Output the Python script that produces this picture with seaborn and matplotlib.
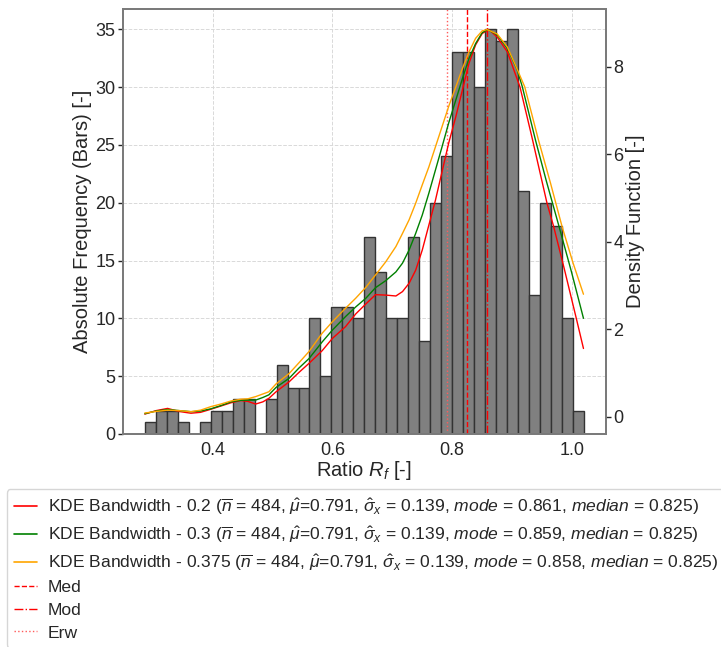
import numpy as np
import pandas as pd
import matplotlib
matplotlib.use("Agg")
import matplotlib.pyplot as plt
import seaborn as sns
from matplotlib.lines import Line2D

# ---------------- data ----------------
bin_low, bin_high, n_bins = 0.2872, 1.0194, 40
bar_counts = [1, 2, 2, 1, 0, 1, 2, 2, 3, 3,
              0, 3, 6, 4, 4, 10, 5, 11, 11, 10,
              17, 14, 10, 10, 17, 8, 20, 24, 33, 33,
              30, 35, 34, 35, 21, 12, 20, 18, 10, 2]

kde02_x = [0.287, 0.306, 0.325, 0.344, 0.364, 0.380, 0.397, 0.414, 0.431, 0.447,
           0.459, 0.472, 0.484, 0.494, 0.506, 0.528, 0.544, 0.561, 0.583, 0.600,
           0.622, 0.639, 0.656, 0.672, 0.689, 0.706, 0.717, 0.728, 0.739, 0.750,
           0.761, 0.772, 0.783, 0.794, 0.806, 0.817, 0.828, 0.839, 0.850, 0.861,
           0.875, 0.892, 0.913, 0.933, 0.958, 0.969, 0.987, 1.007, 1.019]
kde02_y = [0.06, 0.14, 0.19, 0.12, 0.08, 0.10, 0.17, 0.245, 0.32, 0.37,
           0.35, 0.29, 0.34, 0.42, 0.57, 0.80, 1.01, 1.22, 1.51, 1.79,
           2.06, 2.35, 2.58, 2.79, 2.78, 2.76, 2.86, 3.05, 3.35, 3.81,
           4.38, 4.95, 5.60, 6.25, 6.86, 7.47, 8.08, 8.50, 8.76, 8.85,
           8.68, 8.34, 7.54, 6.39, 4.89, 4.36, 3.38, 2.25, 1.56]

kde03_x = [0.287, 0.306, 0.325, 0.344, 0.364, 0.380, 0.397, 0.414, 0.431, 0.447,
           0.459, 0.472, 0.484, 0.494, 0.506, 0.528, 0.544, 0.561, 0.583, 0.600,
           0.622, 0.639, 0.656, 0.672, 0.689, 0.706, 0.717, 0.728, 0.739, 0.750,
           0.761, 0.772, 0.783, 0.794, 0.806, 0.817, 0.828, 0.839, 0.850, 0.859,
           0.875, 0.892, 0.908, 0.917, 0.939, 0.957, 0.978, 0.999, 1.019]
kde03_y = [0.07, 0.13, 0.165, 0.14, 0.115, 0.13, 0.18, 0.255, 0.34, 0.375,
           0.38, 0.38, 0.44, 0.50, 0.67, 0.88, 1.11, 1.33, 1.71, 1.98,
           2.29, 2.51, 2.71, 2.95, 3.11, 3.31, 3.51, 3.81, 4.19, 4.61,
           5.11, 5.64, 6.17, 6.71, 7.24, 7.73, 8.19, 8.53, 8.78, 8.85,
           8.73, 8.42, 7.95, 7.54, 6.32, 5.39, 4.36, 3.31, 2.25]

kde0375_x = [0.287, 0.306, 0.325, 0.344, 0.364, 0.380, 0.397, 0.414, 0.431, 0.447,
             0.459, 0.472, 0.484, 0.494, 0.506, 0.528, 0.544, 0.561, 0.583, 0.600,
             0.622, 0.639, 0.656, 0.672, 0.689, 0.706, 0.717, 0.728, 0.739, 0.750,
             0.761, 0.772, 0.783, 0.794, 0.806, 0.817, 0.828, 0.839, 0.850, 0.858,
             0.875, 0.892, 0.906, 0.921, 0.944, 0.964, 0.983, 1.001, 1.019]
kde0375_y = [0.085, 0.12, 0.15, 0.14, 0.115, 0.15, 0.23, 0.29, 0.36, 0.40,
             0.41, 0.46, 0.52, 0.57, 0.75, 0.99, 1.23, 1.49, 1.91, 2.17,
             2.48, 2.71, 2.96, 3.24, 3.54, 3.89, 4.19, 4.50, 4.88, 5.30,
             5.71, 6.17, 6.63, 7.09, 7.54, 7.96, 8.34, 8.65, 8.82, 8.85,
             8.75, 8.45, 8.02, 7.54, 6.32, 5.34, 4.36, 3.54, 2.80]

kde_labels = [
    r'KDE Bandwidth - 0.2 ($\overline{n}$ = 484, $\hat{\mu}$=0.791, $\hat{\sigma}_x$ = 0.139, $mode$ = 0.861, $median$ = 0.825)',
    r'KDE Bandwidth - 0.3 ($\overline{n}$ = 484, $\hat{\mu}$=0.791, $\hat{\sigma}_x$ = 0.139, $mode$ = 0.859, $median$ = 0.825)',
    r'KDE Bandwidth - 0.375 ($\overline{n}$ = 484, $\hat{\mu}$=0.791, $\hat{\sigma}_x$ = 0.139, $mode$ = 0.858, $median$ = 0.825)',
]
kde_colors = ['red', 'green', 'orange']
median_val, mode_val, mean_val = 0.825, 0.858, 0.791
x_ticks = [0.4, 0.6, 0.8, 1.0]
y1_ticks = [0, 5, 10, 15, 20, 25, 30, 35]
y2_ticks = [0, 2, 4, 6, 8]

# ---------------- style ----------------
sns.set_style("whitegrid")
plt.rcParams['font.family'] = ['Liberation Sans', 'DejaVu Sans']
plt.rcParams['mathtext.fontset'] = 'custom'
plt.rcParams['mathtext.rm'] = 'Liberation Sans'
plt.rcParams['mathtext.it'] = 'Liberation Sans:italic'
plt.rcParams['mathtext.bf'] = 'Liberation Sans:bold'
text_col = '#262626'

fig = plt.figure(figsize=(7.21, 6.47), dpi=100)
ax1 = fig.add_axes([123/721, 1-434/647, (605.7-123)/721, (434-9)/647])
ax2 = ax1.twinx()

edges = np.linspace(bin_low, bin_high, n_bins + 1)
centers = (edges[:-1] + edges[1:]) / 2
hist_df = pd.DataFrame({'x': centers, 'w': bar_counts})
sns.histplot(data=hist_df, x='x', weights='w', bins=n_bins,
             binrange=(bin_low, bin_high), ax=ax1,
             color='#808080', edgecolor='#333333', linewidth=1.0, alpha=1.0)

handles = []
for xs, ys, col, lab in zip([kde02_x, kde03_x, kde0375_x],
                            [kde02_y, kde03_y, kde0375_y],
                            kde_colors, kde_labels):
    sns.lineplot(x=xs, y=ys, ax=ax2, color=col, linewidth=1.0, sort=False)
    handles.append(Line2D([], [], color=col, lw=1.2, label=lab))

vline_col = '#ff0000'
ax2.axvline(median_val, color=vline_col, linestyle='--', linewidth=1.0, zorder=1)
ax2.axvline(mode_val, color=vline_col, linestyle='-.', linewidth=1.0, zorder=1)
ax2.axvline(mean_val, color='#ff5a5a', linestyle=':', linewidth=1.0, zorder=1)
handles.append(Line2D([], [], color=vline_col, ls='--', lw=1.0, label='Med'))
handles.append(Line2D([], [], color=vline_col, ls='-.', lw=1.0, label='Mod'))
handles.append(Line2D([], [], color='#ff5a5a', ls=':', lw=1.0, label='Erw'))

ax1.set_xlim(0.2506, 1.0561)
ax1.set_ylim(0, 36.75)
ax2.set_ylim(-0.395, 9.32)
ax1.set_xticks(x_ticks)
ax1.set_yticks(y1_ticks)
ax2.set_yticks(y2_ticks)
ax1.set_xticklabels([f'{t:.1f}' for t in x_ticks])

ax1.grid(True, linestyle='--', color='#d9d9d9', linewidth=0.7)
ax2.grid(False)
ax1.set_axisbelow(True)

for ax in (ax1, ax2):
    for sp in ax.spines.values():
        sp.set_color('#7a7a7a')
        sp.set_linewidth(1.3)
    ax.tick_params(axis='both', labelsize=13, colors=text_col, length=3.5,
                   width=1, direction='out', pad=2)
ax1.set_xlabel(r'Ratio $R_f$ [-]', fontsize=14.5, color=text_col, labelpad=0)
ax1.set_ylabel('Absolute Frequency (Bars) [-]', fontsize=14.5, color=text_col, labelpad=2)
ax2.set_ylabel('Density Function [-]', fontsize=14.5, color=text_col, labelpad=2)

leg = fig.legend(handles=handles, loc='upper left',
                 bbox_to_anchor=(6.7/721, 1-489/647), fontsize=12.6,
                 frameon=True, fancybox=True, borderaxespad=0,
                 handlelength=1.35, handletextpad=0.6, labelspacing=0.42,
                 borderpad=0.4)
leg.get_frame().set_edgecolor('#cccccc')
for t in leg.get_texts():
    t.set_color(text_col)

fig.savefig('out.png', dpi=100)
